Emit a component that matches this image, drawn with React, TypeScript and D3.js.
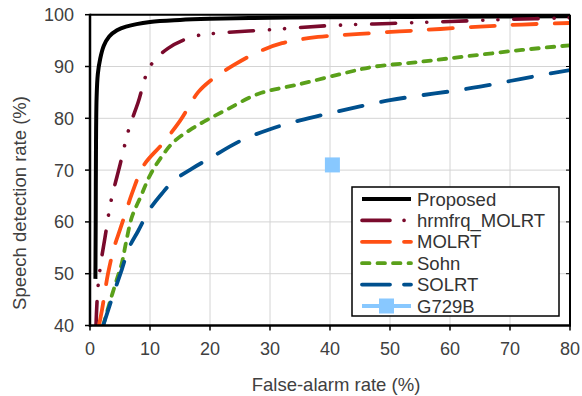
import React from "react";
import * as d3 from "d3";

const xTicks = [0, 10, 20, 30, 40, 50, 60, 70, 80];
const yTicks = [40, 50, 60, 70, 80, 90, 100];

const proposed: [number, number][] = [[0.9, 49], [0.95, 60], [1.0, 75], [1.1, 84], [1.3, 88.5], [1.7, 91.5], [2.3, 94], [3.2, 95.8], [4.5, 97], [6, 97.7], [10, 98.6], [15, 99], [20, 99.2], [30, 99.4], [40, 99.5], [60, 99.6], [80, 99.7]];
const hrmfrq: [number, number][] = [[1, 40], [1.3, 47], [1.8, 52], [2.5, 57], [3.5, 64], [5, 71], [6.5, 78], [8, 83], [10, 90], [13, 93.5], [17, 95.7], [20, 96.3], [30, 97.1], [40, 97.9], [50, 98.3], [60, 98.7], [70, 99.1], [80, 99.4]];
const molrt: [number, number][] = [[1.5, 40], [2, 43], [3, 50], [4, 55], [5, 58.5], [6, 62], [7, 65.5], [9, 71], [12, 75], [15, 79.5], [18, 85], [20, 87.2], [24, 90.3], [28, 92.8], [32, 94.5], [38, 95.7], [45, 96.3], [55, 97], [65, 97.7], [72, 98.1], [80, 98.4]];
const sohn: [number, number][] = [[2.2, 40], [3.3, 44.5], [4.5, 49], [5.3, 52], [6, 56], [7, 61], [8.5, 65], [10, 69], [12, 72.7], [14, 75.5], [17, 78], [20, 80], [23, 81.8], [28, 84.7], [35, 86.6], [42, 88.6], [47, 89.9], [55, 90.9], [63, 92], [72, 93.2], [80, 94.1]];
const solrt: [number, number][] = [[2.2, 40], [3.6, 45], [5.3, 50.8], [6.5, 55], [8, 58.2], [10, 62.5], [12, 65.5], [14, 68], [17, 70.3], [20, 72.3], [25, 75.6], [30, 77.9], [35, 79.6], [40, 81], [45, 82.3], [50, 83.5], [55, 84.4], [60, 85.2], [65, 86.1], [70, 87.2], [75, 88.3], [80, 89.3]];
const g729b: [number, number][] = [[40.4, 71]];

const seriesNames = ["Proposed", "hrmfrq_MOLRT", "MOLRT", "Sohn", "SOLRT", "G729B"];

const styles = [
  { color: "#000000", width: 4, dash: "none" },
  { color: "#7a0a2c", width: 3.6, dash: "24 16 0.1 15 0.1 16" },
  { color: "#ff5014", width: 3.8, dash: "24 18" },
  { color: "#5aa01a", width: 3.8, dash: "7.5 8" },
  { color: "#00508e", width: 3.8, dash: "24 19" },
  { color: "#88c8ff", width: 3.8, dash: "none" },
];

export default function App() {
  const W = 582, H = 396;
  const left = 90, right = 570, top = 14.7, bottom = 325.5;
  const x = d3.scaleLinear().domain([0, 80]).range([left, right]);
  const y = d3.scaleLinear().domain([40, 100]).range([bottom, top]);
  const line = d3.line<[number, number]>().x(d => x(d[0])).y(d => y(d[1])).curve(d3.curveCatmullRom.alpha(0.5));
  const lines = [proposed, hrmfrq, molrt, sohn, solrt];
  const font = "Liberation Sans, Arial, sans-serif";
  const legX = 352, legY = 187, legW = 207, legH = 129;
  const rowY = (i: number) => 199 + i * 21.4;

  return (
    <svg width={W} height={H} style={{ position: "absolute", left: 0, top: 0 }} fontFamily={font}>
      <defs>
        <clipPath id="plot"><rect x={left} y={top - 3} width={right - left} height={bottom - top + 3} /></clipPath>
      </defs>
      <rect x={0} y={0} width={W} height={H} fill="#fff" />
      {xTicks.map(t => <line key={"gx" + t} x1={x(t)} x2={x(t)} y1={top} y2={bottom} stroke="#d4d4d4" strokeWidth={1} />)}
      {yTicks.map(t => <line key={"gy" + t} x1={left} x2={right} y1={y(t)} y2={y(t)} stroke="#d4d4d4" strokeWidth={1} />)}
      <g clipPath="url(#plot)">
        {lines.map((d, i) => (
          <path key={i} d={line(d) || ""} fill="none" stroke={styles[i].color} strokeWidth={styles[i].width}
            strokeDasharray={styles[i].dash} strokeLinecap={i === 0 ? "butt" : "round"} strokeLinejoin="round" />
        ))}
      </g>
      {g729b.map((d, i) => <rect key={"g" + i} x={x(d[0]) - 7.5} y={y(d[1]) - 7.5} width={15} height={15} fill={styles[5].color} />)}
      <line x1={left} x2={right} y1={top} y2={top} stroke="#000" strokeWidth={2} />
      <line x1={right} x2={right} y1={top} y2={bottom} stroke="#000" strokeWidth={2} />
      <line x1={left} x2={left} y1={top - 1} y2={bottom + 1.5} stroke="#000" strokeWidth={2.5} />
      <line x1={left - 1} x2={right + 1} y1={bottom} y2={bottom} stroke="#000" strokeWidth={2.5} />
      {yTicks.map(t => <line key={"ty" + t} x1={left - 5} x2={left} y1={y(t)} y2={y(t)} stroke="#000" strokeWidth={1.5} />)}
      {yTicks.map(t => <line key={"tyr" + t} x1={right - 4} x2={right} y1={y(t)} y2={y(t)} stroke="#000" strokeWidth={1} />)}
      {xTicks.map(t => <line key={"tx" + t} x1={x(t)} x2={x(t)} y1={bottom} y2={bottom + 5} stroke="#000" strokeWidth={1.5} />)}
      {yTicks.map(t => <text key={"ly" + t} x={left - 16} y={y(t)} dy="0.36em" textAnchor="end" fontSize={18} fill="#404040">{t}</text>)}
      {xTicks.map(t => <text key={"lx" + t} x={x(t)} y={355} textAnchor="middle" fontSize={18} fill="#404040">{t}</text>)}
      <text x={336} y={391} textAnchor="middle" fontSize={18.5} fill="#404040">False-alarm rate (%)</text>
      <text transform={`translate(25.5,203) rotate(-90)`} textAnchor="middle" fontSize={18.5} fill="#404040">Speech detection rate (%)</text>
      <rect x={legX} y={legY} width={legW} height={legH} fill="#fff" stroke="#000" strokeWidth={1.5} />
      {seriesNames.map((n, i) => (
        <g key={n}>
          <line x1={362} x2={411} y1={rowY(i)} y2={rowY(i)} stroke={styles[i].color} strokeWidth={styles[i].width}
            strokeDasharray={i === 1 ? "28 14 0.1 100" : i === 2 || i === 4 ? "28 14 100" : styles[i].dash}
            strokeLinecap={i === 0 || i === 5 ? "butt" : "round"} />
          {i === 5 && <rect x={386.5 - 7.5} y={rowY(i) - 7.5} width={15} height={15} fill={styles[5].color} />}
          <text x={417} y={rowY(i)} dy="0.36em" fontSize={18.5} fill="#333">{n}</text>
        </g>
      ))}
    </svg>
  );
}
